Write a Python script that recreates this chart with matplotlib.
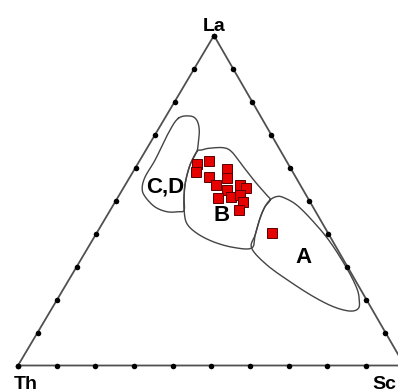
import numpy as np
import matplotlib.pyplot as plt

# Ternary diagram La - Th - Sc, fractions in percent (La, Sc); Th = 100 - La - Sc
sample_la = [61.1, 62.0, 58.7, 57.2, 59.5, 56.7, 54.7, 53.2, 54.7, 53.7,
             50.9, 51.2, 51.7, 49.5, 47.1, 40.2]
sample_sc = [15.3, 18.1, 16.3, 20.5, 23.9, 25.4, 23.5, 27.0, 29.7, 31.7,
             26.0, 29.2, 31.2, 33.0, 33.3, 45.4]

# field outlines (La %, Sc %)
field_cd_la = [74.9, 75.6, 74.4, 71.4, 67.3, 64.8, 60.8, 55.7, 51.2, 47.1,
               46.6, 46.6, 48.1, 51.2, 53.7, 57.2, 62.3, 70.4]
field_cd_sc = [3.5, 6.2, 8.5, 10.7, 12.5, 13.4, 13.7, 15.1, 17.0, 19.1,
               17.9, 14.9, 11.0, 6.9, 4.9, 3.9, 3.9, 3.2]

field_b_la = [64.8, 65.3, 65.8, 66.0, 64.8, 60.8, 55.7, 51.7, 50.2, 48.1,
              44.6, 39.6, 35.6, 35.8, 37.5, 40.1, 43.1, 47.1, 51.2, 55.7, 60.8]
field_b_sc = [13.4, 14.4, 15.9, 19.6, 22.4, 27.1, 33.1, 38.1, 39.8, 39.5,
              40.0, 41.3, 42.4, 37.5, 31.5, 25.9, 21.8, 19.1, 17.0, 15.1, 13.7]

field_a_la = [50.2, 51.2, 50.9, 48.6, 43.6, 37.5, 29.5, 23.4, 19.9, 17.3,
              16.5, 17.8, 20.9, 25.4, 30.5, 35.6, 39.6, 44.6, 48.1]
field_a_sc = [39.8, 41.0, 42.9, 47.5, 54.3, 61.7, 70.1, 75.8, 78.2, 79.3,
              77.5, 72.6, 65.8, 57.5, 48.9, 42.4, 41.3, 40.0, 39.5]

field_names = ['C,D', 'B', 'A']
label_la = [52.4, 43.9, 31.0]
label_sc = [11.5, 30.5, 58.2]

APEX_X = 0.507  # horizontal position of the La apex (scan is slightly skewed)


def to_xy(la, sc):
    la = np.asarray(la) / 100.0
    sc = np.asarray(sc) / 100.0
    return sc + la * APEX_X, la


def smooth_closed(x, y, n=12):
    # periodic Catmull-Rom through the outline vertices
    p = np.column_stack([x, y])
    m = len(p)
    out = []
    t = np.linspace(0, 1, n, endpoint=False)[:, None]
    for i in range(m):
        p0, p1, p2, p3 = p[i - 1], p[i], p[(i + 1) % m], p[(i + 2) % m]
        seg = 0.5 * ((2 * p1) + (-p0 + p2) * t + (2 * p0 - 5 * p1 + 4 * p2 - p3) * t ** 2
                     + (-p0 + 3 * p1 - 3 * p2 + p3) * t ** 3)
        out.append(seg)
    out = np.vstack(out + [out[0][:1]])
    return out[:, 0], out[:, 1]


fig = plt.figure(figsize=(3.98, 3.92), dpi=100)
ax = fig.add_axes([0, 0, 1, 1])
ax.set_xlim(-18 / 386.5, 380 / 386.5)
ax.set_ylim(-26.5 / 330, 365.5 / 330)
ax.axis('off')

# triangle frame
tx, ty = to_xy([0, 100, 0, 0], [0, 0, 100, 0])
ax.plot(tx, ty, color='#505050', lw=1.3, zorder=2)

# tick dots every 10 %
steps = np.arange(0, 101, 10)
lx, ly = to_xy(steps, np.zeros_like(steps))          # Th - La edge
rx, ry = to_xy(steps, 100 - steps)                    # Sc - La edge
bx, by = to_xy(np.zeros_like(steps), steps)           # Th - Sc edge
for xs, ys in [(lx, ly), (rx, ry), (bx, by)]:
    ax.plot(xs, ys, 'o', color='black', ms=4.0, mec='none', zorder=3)

# fields
for fla, fsc in [(field_cd_la, field_cd_sc), (field_b_la, field_b_sc), (field_a_la, field_a_sc)]:
    fx, fy = to_xy(fla, fsc)
    sx, sy = smooth_closed(fx, fy)
    ax.plot(sx, sy, color='#444444', lw=1.0, zorder=2)

for name, la, sc in zip(field_names, label_la, label_sc):
    x, y = to_xy(la, sc)
    ax.text(x, y, name, ha='center', va='baseline', fontsize=16,
            fontweight='bold', family='Liberation Sans', zorder=4)

# samples
px, py = to_xy(sample_la, sample_sc)
ax.plot(px, py, 's', color='#e60000', mec='#5a0000', mew=0.7, ms=7.4, zorder=5)

# vertex labels
vx, vy = to_xy(100, 0)
ax.annotate('La', (vx, vy), xytext=(0, 3.6), textcoords='offset points',
            ha='center', va='baseline', fontsize=14, fontweight='bold',
            family='Liberation Sans')
vx, vy = to_xy(0, 0)
ax.annotate('Th', (vx, vy), xytext=(5.4, -16.8), textcoords='offset points',
            ha='center', va='baseline', fontsize=14, fontweight='bold',
            family='Liberation Sans')
vx, vy = to_xy(0, 100)
ax.annotate('Sc', (vx, vy), xytext=(-23.0, -16.8), textcoords='offset points',
            ha='left', va='baseline', fontsize=14, fontweight='bold',
            family='Liberation Sans', annotation_clip=False)

fig.savefig('out.png', dpi=100)
